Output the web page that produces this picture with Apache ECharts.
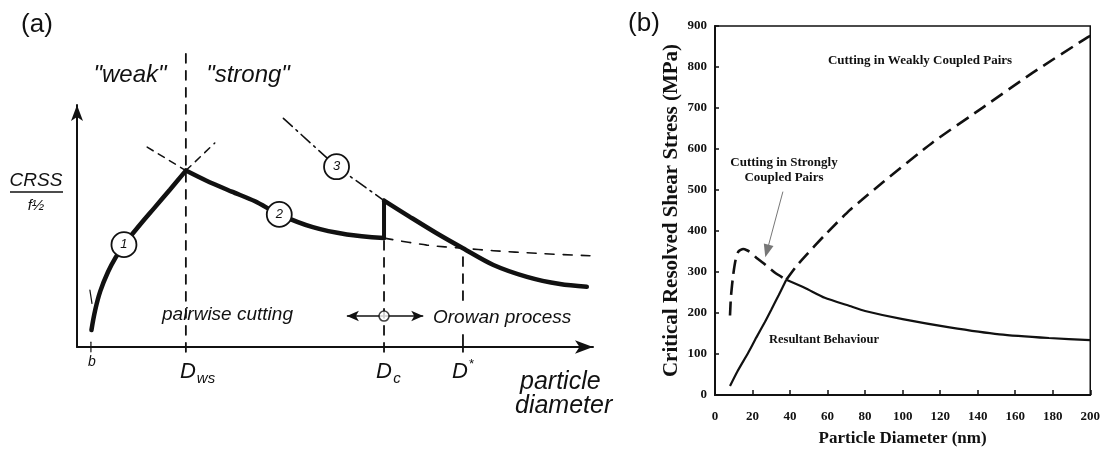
<!DOCTYPE html>
<html>
<head>
<meta charset="utf-8">
<title>CRSS vs particle diameter</title>
<script src="https://cdn.jsdelivr.net/npm/echarts@6/dist/echarts.min.js"></script>
<style>
html,body{margin:0;padding:0;background:#fff;}
#main{width:1103px;height:452px;}
</style>
</head>
<body>
<div id="main"></div>
<script>
// ---- panel (a): schematic, normalised units 0..100 on both axes ----
var aCurve1 = [[2.8,7],[3.5,15],[4.5,23],[6,31],[7.5,37],[9.1,42.3],[12.2,50.5],[15,57.5],[18,65],[21.1,72.9]];
var aCurve2 = [[21.1,72.9],[25,68.8],[30,64.2],[34.5,60.2],[39.2,54.8],[45.7,49.5],[52.3,46.5],[59.5,45]];
var aJump = [[59.5,45],[59.5,60.5]];
var aCurve3 = [[59.5,60.5],[64.5,53.8],[69.7,47],[74.8,40.8],[80.7,33.9],[87.2,29],[93.6,26],[98.8,24.9]];
var aCurve3Ext = [[40,94.5],[50.3,74.5],[59.5,60.5]];
var aCurve2Ext = [[59.5,45],[67.8,42.1],[74.8,40.8],[80.7,39.8],[89.1,38.7],[99.4,37.7]];
var aPeakLeft = [[13.6,82.6],[21.1,72.9]];
var aPeakRight = [[21.1,72.9],[26.7,84.3]];
var aMarkX = [2.7, 21.1, 59.5, 74.8];          // b, Dws, Dc, D*
var aMarkTop = [2, 121.5, 45, 40.8];
var aCircles = [[9.1,42.3,'1'],[39.2,54.8,'2'],[50.3,74.5,'3']];
var aOrowanY = 12.8;

// ---- panel (b): CRSS (MPa) vs particle diameter (nm) ----
var bWeak = [[8,22],[12,58],[17.7,103],[22,140],[26.6,178],[30,208],[34,244],[38,281],[43,312],[48,338],[58.5,390],[71.8,451],[78,475],[89.5,519],[116,616],[142.7,701],[169,785],[197.7,870],[200,876]];
var bStrong = [[8,194],[8.5,240],[9.7,293],[11,330],[12.5,350],[15,356],[17,353],[19.5,346],[22,335],[25.7,322],[32,298],[38,281],[48,261],[58.5,237],[71.8,217],[80,205],[100,185],[125,165],[151.6,148],[178,139],[200,134]];
var bCross = 38;
var bArrow = [[36.2,496],[27.7,351]];

var ink = '#111';
var serif = '"Liberation Serif", "Times New Roman", serif';
var sans = '"Liberation Sans", Arial, sans-serif';

function aLine(data, width, dash, smooth) {
  return {
    type: 'line', xAxisIndex: 0, yAxisIndex: 0, data: data,
    symbol: 'none', clip: false, silent: true, smooth: smooth || false,
    lineStyle: { color: ink, width: width, type: dash || 'solid', cap: 'round' },
    z: 3
  };
}
function bLine(data, dash) {
  return {
    type: 'line', xAxisIndex: 1, yAxisIndex: 1, data: data,
    symbol: 'none', silent: true, smooth: 0.2,
    lineStyle: { color: ink, width: dash ? 2.6 : 2.2, type: dash ? [14, 7] : 'solid' }
  };
}

var series = [
  aLine(aCurve1, 4.5, null, 0.4),
  aLine(aCurve2, 4.5, null, 0.3),
  aLine(aJump, 4),
  aLine(aCurve3, 4.5, null, 0.3),
  aLine(aCurve3Ext, 1.6, [12, 5, 2, 5]),
  aLine(aCurve2Ext, 1.6, [9, 9], 0.3),
  aLine(aPeakLeft, 1.5, [7, 6]),
  aLine(aPeakRight, 1.5, [7, 6]),
  aLine([[aMarkX[1], -2], [aMarkX[1], aMarkTop[1]]], 1.8, [9, 8]),
  aLine([[aMarkX[2], -2], [aMarkX[2], aMarkTop[2]]], 1.8, [9, 8]),
  aLine([[aMarkX[3], 19.4], [aMarkX[3], aMarkTop[3]]], 1.8, [9, 8]),
  aLine([[aMarkX[3], -2], [aMarkX[3], 5]], 1.8),
  aLine([[aMarkX[0], -2], [aMarkX[0], aMarkTop[0]]], 1.2),
  aLine([[2.5, 23.5], [2.9, 18]], 1.2),
  {
    type: 'line', xAxisIndex: 0, yAxisIndex: 0, data: [], silent: true,
    markLine: {
      silent: true, animation: false, symbol: ['arrow', 'arrow'], symbolSize: [8, 12],
      label: { show: false }, lineStyle: { color: ink, width: 1.6, type: 'solid' },
      data: [[{ coord: [52.3, aOrowanY] }, { coord: [67.1, aOrowanY] }]]
    }
  },
  {
    type: 'scatter', xAxisIndex: 0, yAxisIndex: 0, silent: true, z: 5,
    data: [[aMarkX[2], aOrowanY]], symbolSize: 10,
    itemStyle: { color: '#fff', borderColor: ink, borderWidth: 1.6 }
  },
  {
    type: 'scatter', xAxisIndex: 0, yAxisIndex: 0, silent: true, z: 5,
    data: aCircles, symbolSize: 25,
    itemStyle: { color: '#fff', borderColor: ink, borderWidth: 1.8, opacity: 1 },
    label: {
      show: true, position: 'inside', formatter: function (p) { return p.data[2]; },
      color: ink, fontFamily: sans, fontStyle: 'italic', fontSize: 13
    }
  },
  // panel (b)
  bLine(bWeak.filter(function (p) { return p[0] <= bCross; }), false),
  bLine(bWeak.filter(function (p) { return p[0] >= bCross; }), true),
  bLine(bStrong.filter(function (p) { return p[0] <= bCross; }), true),
  bLine(bStrong.filter(function (p) { return p[0] >= bCross; }), false),
  {
    type: 'line', xAxisIndex: 1, yAxisIndex: 1, data: [], silent: true,
    markLine: {
      silent: true, animation: false, symbol: ['none', 'triangle'], symbolSize: [10, 13],
      label: { show: false }, lineStyle: { color: '#777', width: 1, type: 'solid' },
      itemStyle: { color: ink },
      data: [[{ coord: bArrow[0] }, { coord: bArrow[1] }]]
    }
  }
];

function txt(x, y, s, size, opts) {
  opts = opts || {};
  return {
    type: 'text', x: x, y: y, silent: true, z: 10,
    style: {
      text: s, fill: ink,
      font: (opts.style || 'italic') + ' ' + (opts.weight || 'normal') + ' ' + size + 'px ' + (opts.family || sans),
      textAlign: opts.align || 'center', textVerticalAlign: 'middle'
    }
  };
}

var graphics = [
  txt(37, 25, '(a)', 26, { style: 'normal' }),
  txt(644, 24, '(b)', 26, { style: 'normal' }),
  txt(130, 75, '"weak"', 24),
  txt(248, 75, '"strong"', 24),
  txt(36, 181, 'CRSS', 19),
  { type: 'line', silent: true, shape: { x1: 10, y1: 192, x2: 63, y2: 192 }, style: { stroke: ink, lineWidth: 1.6 } },
  txt(36, 206, 'f½', 15),
  txt(92, 362, 'b', 14),
  txt(188, 372, 'D', 22), txt(206, 379, 'ws', 15),
  txt(384, 372, 'D', 22), txt(397, 379, 'c', 15),
  txt(460, 372, 'D', 22), txt(471, 364, '*', 13),
  txt(162, 315, 'pairwise cutting', 19, { align: 'left' }),
  txt(433, 318, 'Orowan process', 19, { align: 'left' }),
  txt(520, 382, 'particle', 25, { align: 'left' }),
  txt(515, 406, 'diameter', 25, { align: 'left' }),
  txt(920, 61, 'Cutting in Weakly Coupled Pairs', 13, { style: 'normal', weight: 'bold', family: serif }),
  txt(784, 163, 'Cutting in Strongly', 13, { style: 'normal', weight: 'bold', family: serif }),
  txt(784, 178, 'Coupled Pairs', 13, { style: 'normal', weight: 'bold', family: serif }),
  txt(824, 340, 'Resultant Behaviour', 12.5, { style: 'normal', weight: 'bold', family: serif })
];

var hidden = { show: false };
var option = {
  animation: false,
  backgroundColor: '#fff',
  grid: [
    { left: 77, top: 105, width: 516, height: 242 },
    { left: 715, top: 26, right: 12, bottom: 54, show: true, borderColor: ink, borderWidth: 1.5, backgroundColor: 'transparent' }
  ],
  xAxis: [
    {
      gridIndex: 0, type: 'value', min: 0, max: 100,
      axisLine: { show: true, onZero: false, symbol: ['none', 'arrow'], symbolSize: [10, 18], lineStyle: { color: ink, width: 2 } },
      axisTick: hidden, axisLabel: hidden, splitLine: hidden
    },
    {
      gridIndex: 1, type: 'value', min: 0, max: 200, interval: 20,
      name: 'Particle Diameter (nm)', nameLocation: 'middle', nameGap: 35,
      nameTextStyle: { fontFamily: serif, fontWeight: 'bold', fontSize: 17, color: ink },
      axisLine: { lineStyle: { color: ink, width: 2 } },
      axisTick: { inside: true, length: 5, lineStyle: { color: ink, width: 1.5 } },
      axisLabel: { margin: 15, fontFamily: serif, fontWeight: 'bold', fontSize: 13, color: ink },
      splitLine: hidden
    }
  ],
  yAxis: [
    {
      gridIndex: 0, type: 'value', min: 0, max: 100,
      axisLine: { show: true, onZero: false, symbol: ['none', 'arrow'], symbolSize: [9, 16], lineStyle: { color: ink, width: 2 } },
      axisTick: hidden, axisLabel: hidden, splitLine: hidden
    },
    {
      gridIndex: 1, type: 'value', min: 0, max: 900, interval: 100,
      name: 'Critical Resolved Shear Stress (MPa)', nameLocation: 'middle', nameGap: 33,
      nameTextStyle: { fontFamily: serif, fontWeight: 'bold', fontSize: 21, color: ink },
      axisLine: { lineStyle: { color: ink, width: 2 } },
      axisTick: { inside: true, length: 4, lineStyle: { color: ink, width: 1.5 } },
      axisLabel: { margin: 8, fontFamily: serif, fontWeight: 'bold', fontSize: 13, color: ink },
      splitLine: hidden
    }
  ],
  graphic: graphics,
  series: series
};

var myChart = echarts.init(document.getElementById('main'));
myChart.setOption(option);
</script>
</body>
</html>
